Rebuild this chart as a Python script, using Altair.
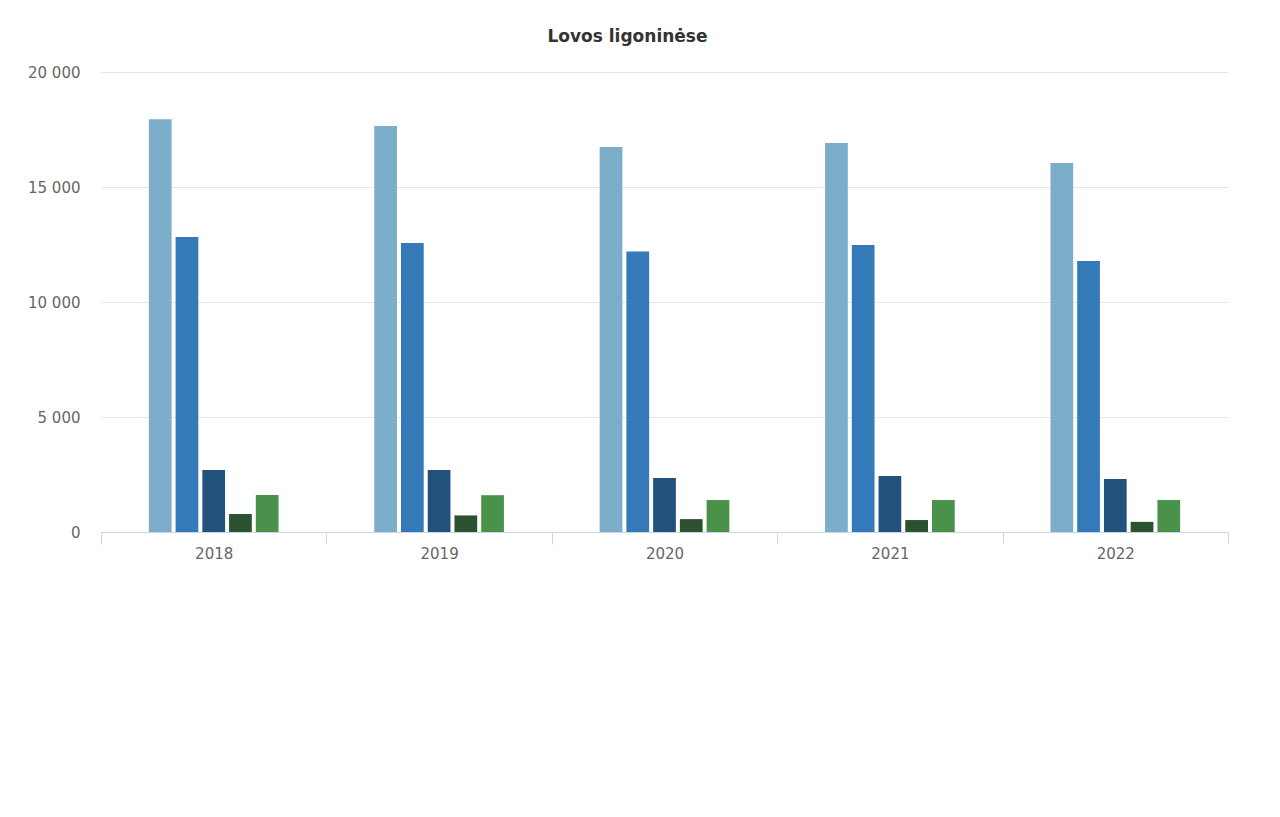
import pandas as pd
import altair as alt

# Hospital beds by year
years = ["2018", "2019", "2020", "2021", "2022"]
series = ["Iš viso", "Aktyviojo gydymo", "Slaugos ir palaikomojo gydymo", "Reabilitacijos", "Kitos"]
colors = ["#7caecc", "#3479b8", "#22527b", "#2c5130", "#4a924a"]

beds_total = [17950, 17650, 16740, 16910, 16040]
beds_active = [12830, 12570, 12200, 12480, 11780]
beds_care = [2700, 2700, 2350, 2430, 2300]
beds_rehab = [780, 720, 560, 520, 440]
beds_other = [1610, 1600, 1390, 1390, 1390]

y_ticks = [0, 5000, 10000, 15000, 20000]

# two empty slots on the offset scale keep the bar group narrow and centred
offset_domain = ["_left"] + series + ["_right"]


def build_frame():
    values = [beds_total, beds_active, beds_care, beds_rehab, beds_other]
    rows = []
    for name, vals in zip(series, values):
        for year, v in zip(years, vals):
            rows.append({"year": year, "series": name, "value": v})
    return pd.DataFrame(rows)


df = build_frame()
font = "DejaVu Sans"

chart = alt.Chart(df).mark_bar().encode(
    x=alt.X("year:N", title=None, sort=years,
            scale=alt.Scale(paddingInner=0, paddingOuter=0),
            axis=alt.Axis(labelAngle=0, grid=False, domainColor="#ccd6eb",
                          tickColor="#ccd6eb", tickSize=12, tickBand="extent",
                          labelPadding=2, labelFontSize=15, labelColor="#666666",
                          labelFont=font)),
    xOffset=alt.XOffset("series:N",
                        scale=alt.Scale(domain=offset_domain, paddingInner=0.15,
                                        paddingOuter=0.79)),
    y=alt.Y("value:Q", title=None,
            scale=alt.Scale(domain=[0, 20000], nice=False),
            axis=alt.Axis(values=y_ticks, domain=False, ticks=False,
                          gridColor="#e6e6e6", labelPadding=21,
                          labelFontSize=15, labelColor="#666666", labelFont=font,
                          labelExpr="replace(format(datum.value, ','), ',', ' ')")),
    color=alt.Color("series:N", sort=series, legend=None,
                    scale=alt.Scale(domain=series, range=colors)),
    tooltip=["year", "series", "value"]
).properties(
    title=alt.TitleParams("Lovos ligoninėse", font=font, fontSize=17,
                          fontWeight="bold", color="#333333", dx=-37, offset=19),
    width=1127,
    height=460,
    autosize=alt.AutoSizeParams(type="none"),
    padding={"left": 93, "top": 64, "right": 28, "bottom": 80}
).configure_view(stroke=None)

chart.save("out.html", embed_options={"renderer": "svg", "actions": False})
